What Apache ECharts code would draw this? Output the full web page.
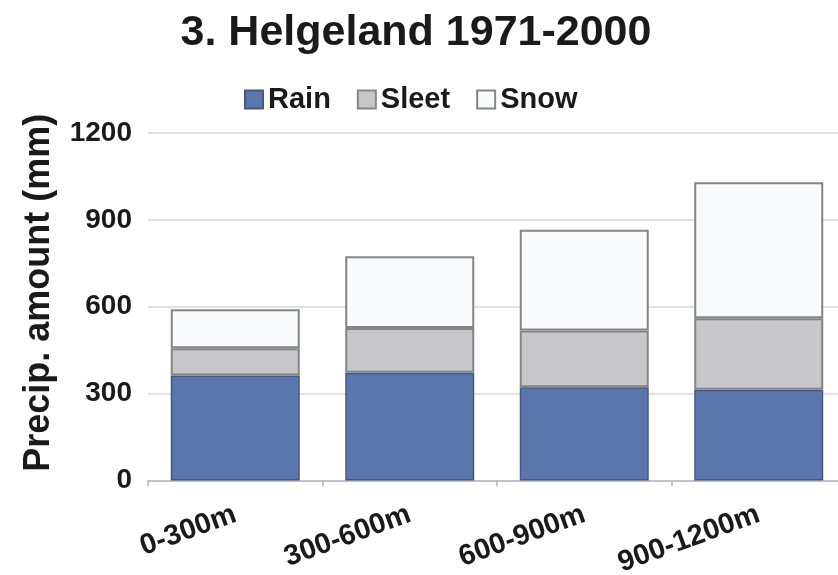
<!DOCTYPE html>
<html>
<head>
<meta charset="utf-8">
<script src="https://cdn.jsdelivr.net/npm/echarts@6/dist/echarts.min.js"></script>
<style>html,body{margin:0;padding:0;background:#fff;}#c{width:838px;height:575px;}</style>
</head>
<body>
<div id="c"></div>
<script>
const categories = ['0-300m', '300-600m', '600-900m', '900-1200m'];
const rain = [363, 372, 322, 313];
const sleet = [94, 155, 196, 247];
const snow = [134, 247, 348, 470];
const yTicks = [0, 300, 600, 900, 1200];

const FONT = 'Liberation Sans, Arial, sans-serif';
const chart = echarts.init(document.getElementById('c'), null, {renderer: 'canvas'});
chart.setOption({
  animation: false,
  backgroundColor: '#ffffff',
  title: {
    text: '3. Helgeland 1971-2000',
    left: 411, top: 7, textAlign: 'center',
    textStyle: {fontFamily: FONT, fontWeight: 'bold', fontSize: 43, color: '#1a1a1a'}
  },
  legend: {
    left: 239, top: 80, padding: 5,
    itemWidth: 18, itemHeight: 18, itemGap: 26,
    icon: 'rect',
    textStyle: {fontFamily: FONT, fontWeight: 'bold', fontSize: 29, color: '#1a1a1a'},
    data: ['Rain', 'Sleet', 'Snow']
  },
  grid: {left: 148, right: -8, top: 133, bottom: 94.5, containLabel: false, outerBoundsMode: 'none'},
  xAxis: {
    type: 'category',
    data: categories,
    axisLine: {show: true, lineStyle: {color: '#b8b8b8', width: 1.5}},
    axisTick: {show: true, length: 6, lineStyle: {color: '#b8b8b8', width: 1.5}},
    axisLabel: {rotate: 20, margin: 33, fontFamily: FONT, fontWeight: 'bold', fontSize: 29, color: '#1a1a1a'}
  },
  yAxis: {
    type: 'value',
    min: 0, max: 1200, interval: 300,
    name: 'Precip. amount (mm)',
    nameLocation: 'middle',
    nameGap: 91,
    nameTextStyle: {fontFamily: FONT, fontWeight: 'bold', fontSize: 36, color: '#1a1a1a', padding: [0, 0, 0, 28]},
    axisLine: {show: false},
    axisTick: {show: false},
    axisLabel: {margin: 16, fontFamily: FONT, fontWeight: 'bold', fontSize: 28, color: '#1a1a1a',
      formatter: v => yTicks.includes(v) ? String(v) : ''},
    splitLine: {lineStyle: {color: '#d9d9d9', width: 1.5}}
  },
  series: [
    {name: 'Rain', type: 'bar', stack: 'p', data: rain, barWidth: 129,
      itemStyle: {color: '#5b76ad', borderColor: '#46587f', borderWidth: 1.5}},
    {name: 'Sleet', type: 'bar', stack: 'p', data: sleet, barWidth: 129,
      itemStyle: {color: '#c7c7cb', borderColor: '#858585', borderWidth: 2}},
    {name: 'Snow', type: 'bar', stack: 'p', data: snow, barWidth: 129,
      itemStyle: {color: '#f9fafc', borderColor: '#858585', borderWidth: 2}}
  ]
});
</script>
</body>
</html>
